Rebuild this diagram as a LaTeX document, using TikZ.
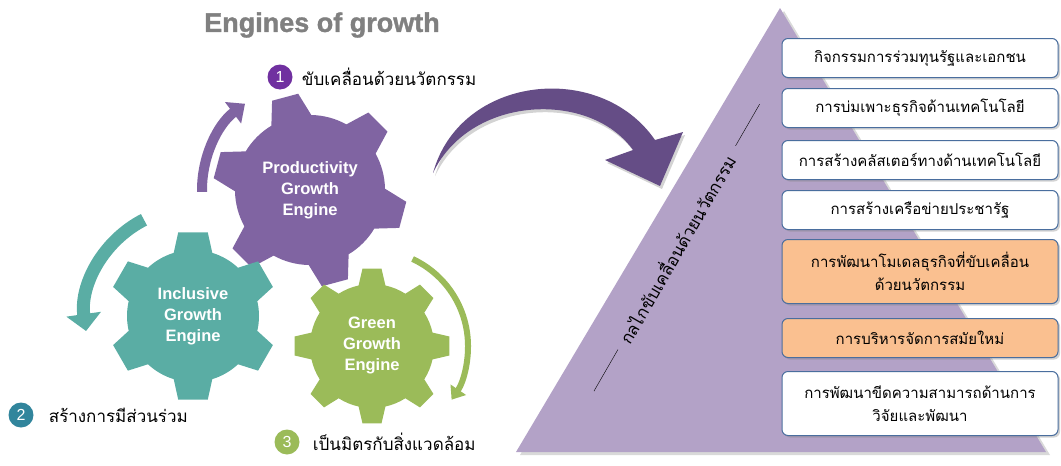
\documentclass[tikz,border=0pt]{standalone}
\usepackage{fontspec}
\setmainfont{Liberation Sans}
\newfontfamily\thaifont[Script=Thai]{Loma}
\newfontfamily\titlefont[BoldFeatures={FakeBold=1.2}]{Liberation Sans}
\usetikzlibrary{arrows.meta,positioning,calc,shadows}

\definecolor{prodpurple}{HTML}{8064A2}
\definecolor{incteal}{HTML}{5AADA4}
\definecolor{grngreen}{HTML}{9BBB59}
\definecolor{bigarrow}{HTML}{654D86}
\definecolor{trililac}{HTML}{B3A2C7}
\definecolor{boxorange}{HTML}{FAC090}
\definecolor{boxline}{HTML}{4A6E9E}
\definecolor{badgeone}{HTML}{7030A0}
\definecolor{badgetwo}{HTML}{31859C}

% gear: centre, teeth, body r, tip r, first tooth angle, base half angle, tip half angle, colour
\newcommand{\gear}[8]{%
  \fill[#8] ($(#1)+(#5-#6:#3)$)
    \foreach \k [evaluate=\k as \a using {#5+(\k-1)*360/#2}] in {1,...,#2}{
      -- ($(#1)+(\a-#7:#4)$) -- ($(#1)+(\a+#7:#4)$) -- ($(#1)+(\a+#6:#3)$)
      arc[start angle=\a+#6, end angle=\a+360/#2-#6, radius=#3]
    } -- cycle;}

\begin{document}
\begin{tikzpicture}[x=1pt, y=1pt,
    geartext/.style={text=white, align=center, font=\bfseries\fontsize{16.5}{21}\selectfont},
    badge/.style={circle, minimum size=25pt, inner sep=0pt, text=white, font=\fontsize{16}{18}\selectfont},
    labeltext/.style={inner sep=0pt, font=\thaifont\fontsize{17}{20}\selectfont},
    stepbox/.style={draw=boxline, line width=1pt, rounded corners=6pt, fill=white, minimum width=276pt,
      minimum height=39pt, inner ysep=1pt, align=center,
      font=\thaifont\fontsize{15}{23.5}\selectfont,
      drop shadow={shadow xshift=2pt, shadow yshift=-2pt, opacity=0.35}},
    hibox/.style={stepbox, fill=boxorange}]
  \useasboundingbox (0,0) rectangle (1061,-466);

  % pyramid and big arrow
  \fill[trililac, drop shadow={shadow xshift=4pt, shadow yshift=-3pt, opacity=0.3}]
    (780,-8) -- (1046,-452) -- (516,-452) -- cycle;
  \fill[bigarrow, drop shadow={shadow xshift=2pt, shadow yshift=-3pt, opacity=0.35}]
    (433,-173) .. controls (460,-75) and (600,-60) .. (655,-140) -- (683,-132) -- (660,-186)
    -- (605,-160) -- (633,-150) .. controls (590,-90) and (470,-95) .. (433,-173) -- cycle;

  \node[labeltext, rotate=60] (side) at (676,-249) {กลไกขับเคลื่อนด้วยนวัตกรรม};
  \draw ($(side.west)!-9pt!(side.east)$) -- ($(side.west)!-57pt!(side.east)$);
  \draw ($(side.east)!-12pt!(side.west)$) -- ($(side.east)!-60pt!(side.west)$);

  % gears
  \coordinate (prodc) at (310,-190);
  \coordinate (incc) at (193,-316);
  \coordinate (grnc) at (372,-346);
  \gear{prodc}{6}{75}{97}{105}{16}{8}{prodpurple}
  \gear{incc}{6}{66}{85}{90}{17}{10}{incteal}
  \gear{grnc}{8}{62}{78}{90}{12.5}{7}{grngreen}

  \node[geartext] (prod) at (prodc) {Productivity\\Growth\\Engine};
  \node[geartext] (inc) at (incc) {Inclusive\\Growth\\Engine};
  \node[geartext] (grn) at ([yshift=1pt]grnc) {Green\\Growth\\Engine};

  % turning arrows
  \draw[prodpurple, line width=10pt, -{Triangle[width=26pt,length=15pt]}]
    ($(prodc)+(181:108)$) arc[start angle=181, end angle=127, radius=108];
  \draw[incteal, line width=13pt, -{Triangle[width=34pt,length=17pt]}]
    ($(incc)+(117:108)$) arc[start angle=117, end angle=188, radius=108];
  \draw[grngreen, line width=6pt, -{Triangle[width=18pt,length=12pt]}]
    ($(grnc)+(65:96)$) arc[start angle=65, end angle=-34, radius=96];

  \node[font=\titlefont\bfseries\fontsize{27}{32}\selectfont, text=gray] (title) at (322,-25) {Engines of growth};

  \node[badge, fill=badgeone] (b1) at (280,-77) {1};
  \node[labeltext, right=9pt of b1] (l1) {ขับเคลื่อนด้วยนวัตกรรม};
  \node[badge, fill=badgetwo] (b2) at (21,-415) {2};
  \node[labeltext, right=15pt of b2] (l2) {สร้างการมีส่วนร่วม};
  \node[badge, fill=grngreen] (b3) at (287,-442) {3};
  \node[labeltext, right=13pt of b3] (l3) {เป็นมิตรกับสิ่งแวดล้อม};

  % list of mechanisms
  \node[stepbox] (s1) at (920,-58) {กิจกรรมการร่วมทุนรัฐและเอกชน};
  \node[stepbox, below=10pt of s1] (s2) {การบ่มเพาะธุรกิจด้านเทคโนโลยี};
  \node[stepbox, below=12pt of s2] (s3) {การสร้างคลัสเตอร์ทางด้านเทคโนโลยี};
  \node[stepbox, below=10pt of s3] (s4) {การสร้างเครือข่ายประชารัฐ};
  \node[hibox, minimum height=64pt, below=9pt of s4] (s5) {การพัฒนาโมเดลธุรกิจที่ขับเคลื่อน\\ด้วยนวัตกรรม};
  \node[hibox, below=14pt of s5] (s6) {การบริหารจัดการสมัยใหม่};
  \node[stepbox, minimum height=64pt, below=13pt of s6] (s7) {การพัฒนาขีดความสามารถด้านการ\\วิจัยและพัฒนา};
\end{tikzpicture}
\end{document}
